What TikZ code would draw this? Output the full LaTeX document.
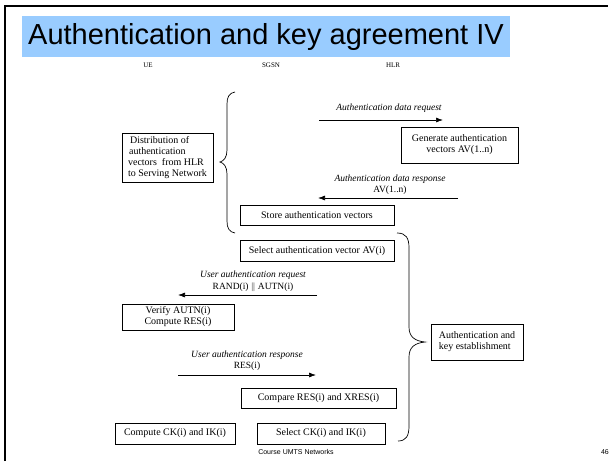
\documentclass[tikz,border=0pt]{standalone}
\usepackage{fontspec}
\setmainfont{Liberation Serif}
\newfontfamily\headfont{Liberation Sans}
\usetikzlibrary{arrows.meta}
\definecolor{titleblue}{HTML}{99CCFF}
\tikzset{
  box/.style={draw=black, line width=0.7pt, inner sep=0pt, outer sep=0pt,
    font=\fontsize{10}{11}\selectfont, align=center},
  msg/.style={font=\fontsize{9.5}{10}\selectfont\itshape, inner sep=0pt},
  msgplain/.style={font=\fontsize{9.5}{10}\selectfont, inner sep=0pt},
  msgarrow/.style={line width=0.7pt, -{Latex[length=7pt,width=5pt]}},
  bracket/.style={line width=0.7pt},
  entity/.style={font=\fontsize{7}{8}\selectfont, inner sep=0pt},
  foot/.style={font=\headfont\fontsize{7}{8}\selectfont, inner sep=0pt}
}
\begin{document}
\begin{tikzpicture}[x=1pt,y=-1pt]
\useasboundingbox (0,0) rectangle (612,461);

% slide frame
\draw[line width=2pt] (5,461) -- (5,6) -- (608,6);

% title bar
\fill[titleblue] (22,16) rectangle (510,57);
\node[font=\headfont\fontsize{29}{30}\selectfont, inner sep=0pt] (title) at (266,37) {Authentication and key agreement IV};

% network entities
\node[entity] (ue) at (148,65) {UE};
\node[entity] (sgsn) at (271,65) {SGSN};
\node[entity] (hlr) at (393,65) {HLR};

% distribution phase
\node[box, minimum width=91pt, minimum height=49pt, align=left] (dist) at (167.5,158)
  {\hspace*{2pt}Distribution of\\\hspace*{1pt}authentication\\vectors\ \ from HLR\\to Serving Network};
\draw[bracket] (235,92) .. controls (229,93) and (227,97) .. (227,104) -- (227,150)
  .. controls (227,157) and (224,161) .. (220,162)
  .. controls (224,163) and (227,167) .. (227,174) -- (227,221)
  .. controls (227,228) and (229,232) .. (235,233);

\coordinate (reqS) at (319,120);
\coordinate (reqE) at (443,120);
\node[msg] (reqlbl) at (389,108) {Authentication data request};
\draw[msgarrow] (reqS) -- (reqE);

\node[box, minimum width=117pt, minimum height=36pt] (gen) at (459.5,145)
  {Generate authentication\\vectors AV(1..n)};

\coordinate (resS) at (458,198);
\coordinate (resE) at (318,198);
\node[msg] (reslbl) at (390,179) {Authentication data response};
\node[msgplain] (resav) at (390,190) {AV(1..n)};
\draw[msgarrow] (resS) -- (resE);

\node[box, minimum width=154pt, minimum height=20pt] (store) at (317,215) {Store authentication vectors};

% authentication and key establishment phase
\node[box, minimum width=154pt, minimum height=21pt] (selav) at (317,251) {Select authentication vector AV(i)};

\coordinate (uarS) at (317,295);
\coordinate (uarE) at (178,295);
\node[msg] (uarlbl) at (253,275.5) {User authentication request};
\node[msgplain] (uarrand) at (253,287) {RAND(i) $\|$ AUTN(i)};
\draw[msgarrow] (uarS) -- (uarE);

\node[box, minimum width=112pt, minimum height=26pt] (verify) at (178,317)
  {Verify AUTN(i)\\Compute RES(i)};

\node[box, minimum width=92pt, minimum height=36pt, align=left] (ake) at (477,342)
  {Authentication and\\key establishment};
\draw[bracket] (397,233) .. controls (406,233) and (409,238) .. (409,248) -- (409,327)
  .. controls (409,337) and (415,341) .. (425,342)
  .. controls (415,343) and (409,347) .. (409,357) -- (409,426)
  .. controls (409,436) and (406,441) .. (398,441);

\coordinate (uapS) at (178,375);
\coordinate (uapE) at (316,375);
\node[msg] (uaplbl) at (247,355) {User authentication response};
\node[msgplain] (uapres) at (247,366.5) {RES(i)};
\draw[msgarrow] (uapS) -- (uapE);

\node[box, minimum width=155pt, minimum height=20pt] (cmp) at (318.5,398) {Compare RES(i) and XRES(i)};

\node[box, minimum width=120pt, minimum height=21pt] (ckue) at (175,433.5) {Compute CK(i) and IK(i)};
\node[box, minimum width=128pt, minimum height=21pt] (cksn) at (321,433.5) {Select CK(i) and IK(i)};

% footer
\node[foot] (course) at (296,452) {Course UMTS Networks};
\node[foot, anchor=east] (page) at (609,452) {46};
\end{tikzpicture}
\end{document}
